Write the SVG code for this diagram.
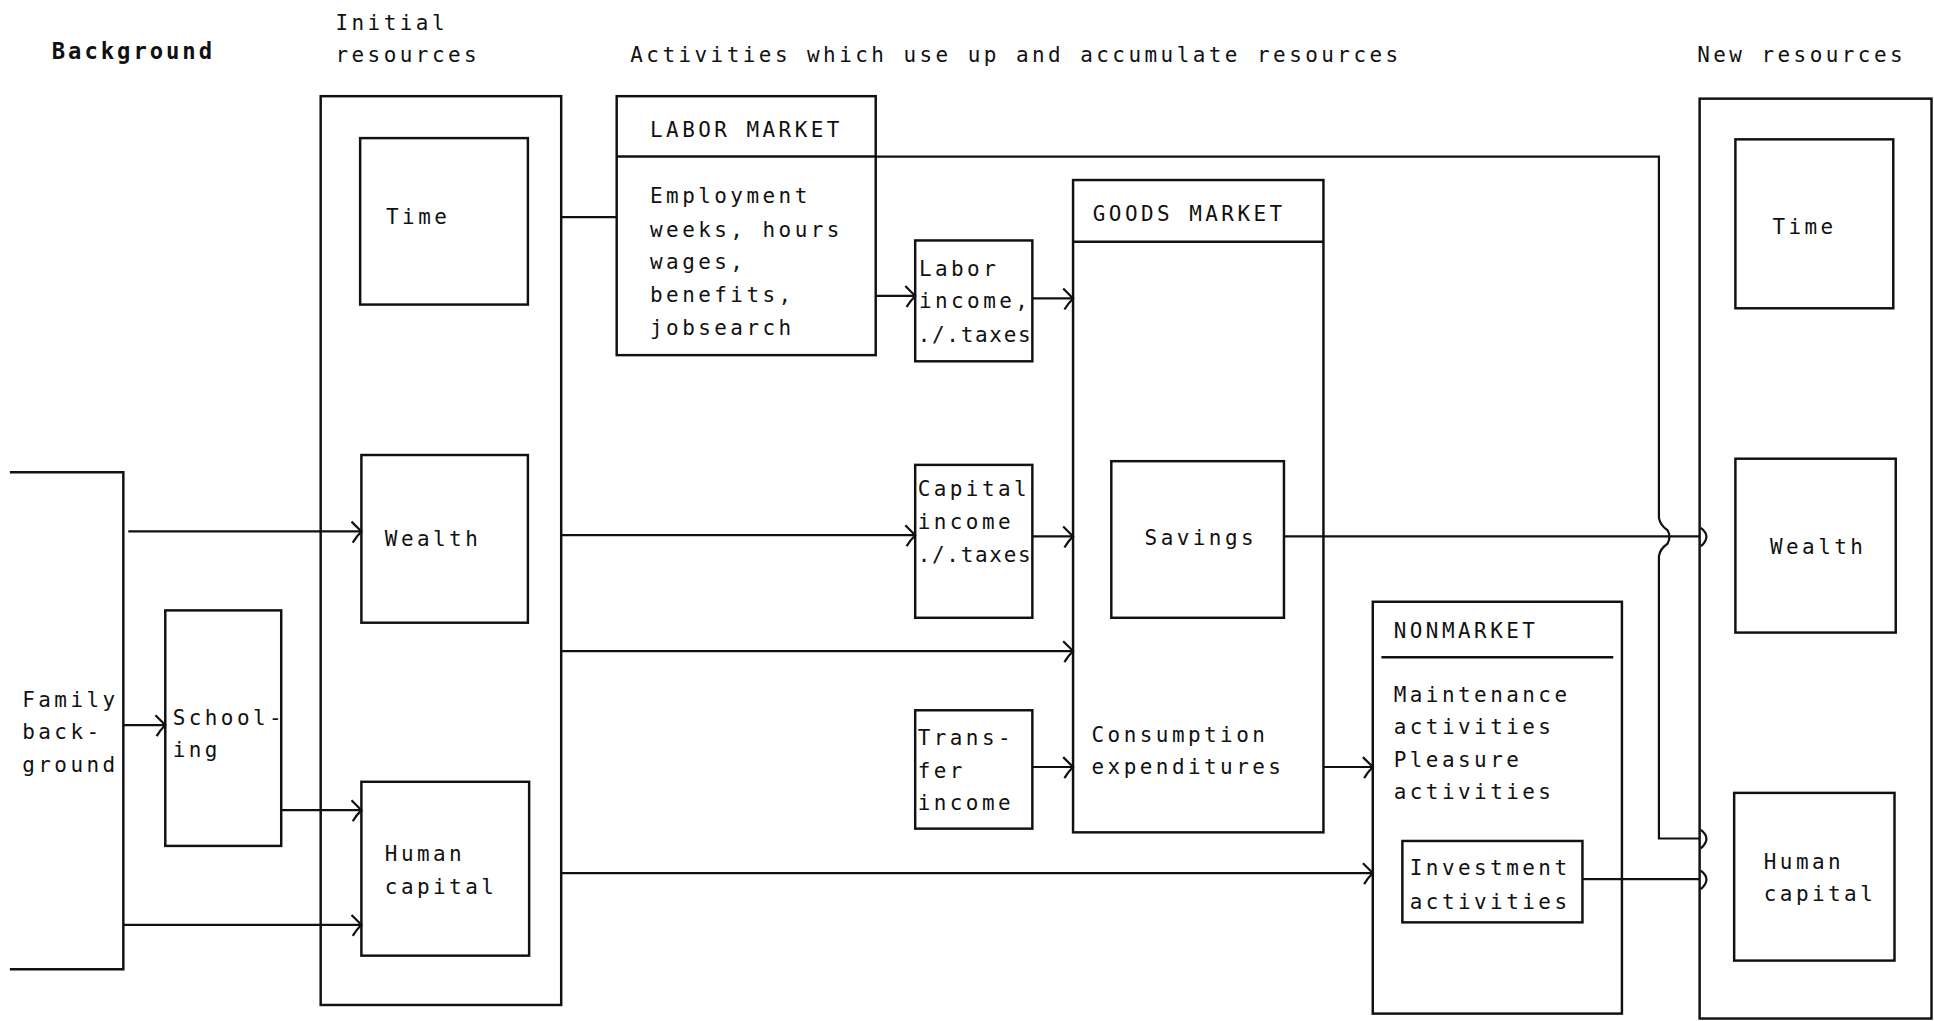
<svg xmlns="http://www.w3.org/2000/svg" width="1934" height="1021" viewBox="0 0 1934 1021">
<style>
.box{fill:none;stroke:#111;stroke-width:2}
.ln{fill:none;stroke:#111;stroke-width:1.8}
.t{font-family:"DejaVu Sans Mono","Liberation Mono",monospace;font-size:17px;letter-spacing:2.8px;fill:#111}
.bold{font-weight:bold;font-size:18px;letter-spacing:2.4px}
.tight{letter-spacing:1.4px}
</style>
<defs>
<marker id="arr" markerUnits="userSpaceOnUse" markerWidth="14" markerHeight="20" refX="10" refY="9" orient="auto">
<path d="M2,1 Q6,5 10,9 Q6,13 3,18" fill="none" stroke="#111" stroke-width="1.8"/>
</marker>
</defs>
<rect width="1934" height="1021" fill="#fff"/>
<g transform="scale(1.2334,1.2331)">
<g id="headers">
<text class="t bold" x="42" y="48">Background</text>
<text class="t" x="272" y="24">Initial</text>
<text class="t" x="272" y="50">resources</text>
<text class="t" x="511" y="50">Activities which use up and accumulate resources</text>
<text class="t" x="1376" y="50">New resources</text>
</g>
<g id="family">
<path class="box" d="M8,383 H100 V786 H8"/>
<text class="t" x="18" y="573">Family</text>
<text class="t" x="18" y="599">back-</text>
<text class="t" x="18" y="626">ground</text>
</g>
<g id="schooling">
<rect class="box" x="134" y="495" width="94" height="191"/>
<text class="t" x="140" y="588">School-</text>
<text class="t" x="140" y="614">ing</text>
</g>
<g id="initial-resources">
<rect class="box" x="260" y="78" width="195" height="737"/>
</g>
<g id="init-time">
<rect class="box" x="292" y="112" width="136" height="135"/>
<text class="t" x="313" y="182">Time</text>
</g>
<g id="init-wealth">
<rect class="box" x="293" y="369" width="135" height="136"/>
<text class="t" x="312" y="443">Wealth</text>
</g>
<g id="init-human">
<rect class="box" x="293" y="634" width="136" height="141"/>
<text class="t" x="312" y="698">Human</text>
<text class="t" x="312" y="725">capital</text>
</g>
<g id="labor-market">
<rect class="box" x="500" y="78" width="210" height="210"/>
<line class="box" x1="500" y1="127" x2="710" y2="127"/>
<text class="t" x="527" y="111">LABOR MARKET</text>
<text class="t" x="527" y="165">Employment</text>
<text class="t" x="527" y="192">weeks, hours</text>
<text class="t" x="527" y="218">wages,</text>
<text class="t" x="527" y="245">benefits,</text>
<text class="t" x="527" y="272">jobsearch</text>
</g>
<g id="labor-income">
<rect class="box" x="742" y="195" width="95" height="98"/>
<text class="t" x="745" y="224">Labor</text>
<text class="t" x="745" y="250">income,</text>
<text class="t tight" x="744" y="277">./.taxes</text>
</g>
<g id="capital-income">
<rect class="box" x="742" y="377" width="95" height="124"/>
<text class="t" x="744" y="402">Capital</text>
<text class="t" x="744" y="429">income</text>
<text class="t tight" x="744" y="456">./.taxes</text>
</g>
<g id="transfer-income">
<rect class="box" x="742" y="576" width="95" height="96"/>
<text class="t" x="744" y="604">Trans-</text>
<text class="t" x="744" y="631">fer</text>
<text class="t" x="744" y="657">income</text>
</g>
<g id="goods-market">
<rect class="box" x="870" y="146" width="203" height="529"/>
<line class="box" x1="870" y1="196" x2="1073" y2="196"/>
<text class="t" x="886" y="179">GOODS MARKET</text>
<text class="t" x="885" y="602">Consumption</text>
<text class="t" x="885" y="628">expenditures</text>
</g>
<g id="savings">
<rect class="box" x="901" y="374" width="140" height="127"/>
<text class="t" x="928" y="442">Savings</text>
</g>
<g id="nonmarket">
<rect class="box" x="1113" y="488" width="202" height="334"/>
<line class="box" x1="1120" y1="533" x2="1308" y2="533"/>
<text class="t" x="1130" y="517">NONMARKET</text>
<text class="t" x="1130" y="569">Maintenance</text>
<text class="t" x="1130" y="595">activities</text>
<text class="t" x="1130" y="622">Pleasure</text>
<text class="t" x="1130" y="648">activities</text>
</g>
<g id="investment">
<rect class="box" x="1137" y="682" width="146" height="66"/>
<text class="t" x="1143" y="710">Investment</text>
<text class="t" x="1143" y="737">activities</text>
</g>
<g id="new-resources">
<rect class="box" x="1378" y="80" width="188" height="746"/>
</g>
<g id="new-time">
<rect class="box" x="1407" y="113" width="128" height="137"/>
<text class="t" x="1437" y="190">Time</text>
</g>
<g id="new-wealth">
<rect class="box" x="1407" y="372" width="130" height="141"/>
<text class="t" x="1435" y="449">Wealth</text>
</g>
<g id="new-human">
<rect class="box" x="1406" y="643" width="130" height="136"/>
<text class="t" x="1430" y="705">Human</text>
<text class="t" x="1430" y="731">capital</text>
</g>
<g id="connectors">
<path class="ln" d="M104,431 H293" marker-end="url(#arr)"/>
<path class="ln" d="M100,588 H134" marker-end="url(#arr)"/>
<path class="ln" d="M228,657 H293" marker-end="url(#arr)"/>
<path class="ln" d="M100,750 H293" marker-end="url(#arr)"/>
<path class="ln" d="M455,176 H500"/>
<path class="ln" d="M455,434 H742" marker-end="url(#arr)"/>
<path class="ln" d="M455,528 H870" marker-end="url(#arr)"/>
<path class="ln" d="M455,708 H1113" marker-end="url(#arr)"/>
<path class="ln" d="M710,240 H742" marker-end="url(#arr)"/>
<path class="ln" d="M837,242 H870" marker-end="url(#arr)"/>
<path class="ln" d="M837,435 H870" marker-end="url(#arr)"/>
<path class="ln" d="M837,622 H870" marker-end="url(#arr)"/>
<path class="ln" d="M1073,622 H1113" marker-end="url(#arr)"/>
<path class="ln" d="M710,127 H1345 V420 Q1346,426 1352,430 Q1355,435 1352,441 Q1346,445 1345,451 V680 H1378"/>
<path class="ln" d="M1041,435 H1378"/>
<path class="ln" d="M1283,713 H1378"/>
<path class="ln" d="M1379,428 Q1388,435 1379,443"/>
<path class="ln" d="M1379,673 Q1388,680 1379,688"/>
<path class="ln" d="M1379,706 Q1388,713 1379,721"/>
</g>
</g>
</svg>
